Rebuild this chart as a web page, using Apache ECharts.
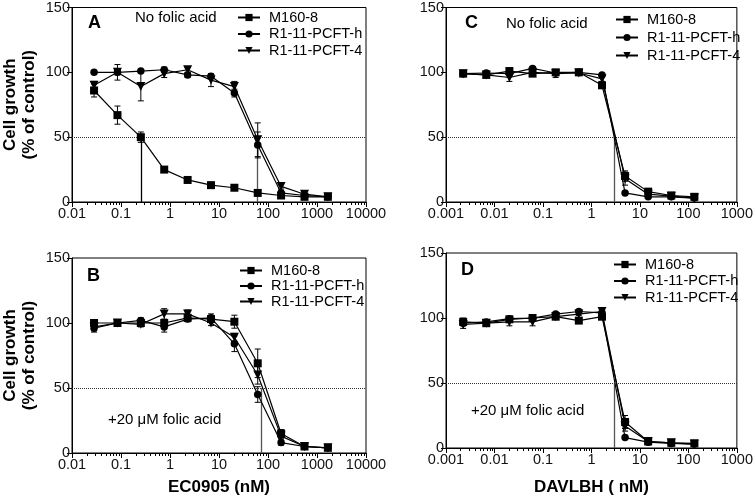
<!DOCTYPE html>
<html><head><meta charset="utf-8">
<script src="https://cdn.jsdelivr.net/npm/echarts@6/dist/echarts.min.js"></script>
<style>html,body{margin:0;padding:0;background:#fff}#c{width:756px;height:502px}</style>
</head><body><div id="c"></div>
<script>
// ---- data ----
const seriesNames = ['M160-8', 'R1-11-PCFT-h', 'R1-11-PCFT-4'];
const dosesEC = [0.0282, 0.0847, 0.254, 0.762, 2.29, 6.86, 20.6, 61.7, 185, 556, 1667];
const dosesDAV = [0.00226, 0.00677, 0.0203, 0.061, 0.183, 0.549, 1.65, 4.94, 14.8, 44.4, 133];
const ecTicks = ['0.01', '0.1', '1', '10', '100', '1000', '10000'];
const davTicks = ['0.001', '0.01', '0.1', '1', '10', '100', '1000'];
const yTicks = ['0', '50', '100', '150'];

const aM160 = [86, 67, 50, 25, 17, 13, 11, 7, 5, 4, 4];
const aPCFTh = [100, 100, 101, 102, 98, 97, 84, 44, 7, 5, 4];
const aPCFT4 = [90, 100, 89, 99, 102, 94, 89, 48, 12, 6, 4];
const aM160Err = [5, 7, 4, 2, 2, 1, 1, 1, 1, 0.5, 0.5];
const aPCFThErr = [1, 2, 1, 2, 2, 1, 3, 10, 2, 1, 1];
const aPCFT4Err = [3, 6, 11, 3, 2, 5, 4, 13, 2, 1, 1];

const bM160 = [100, 100, 100, 100, 104, 103, 101, 69, 15, 5, 4];
const bPCFTh = [96, 100, 102, 97, 103, 104, 84, 45, 8, 5, 4];
const bPCFT4 = [97, 100, 99, 107, 107, 100, 89, 60, 13, 5, 4];
const bM160Err = [2, 1, 1, 2, 2, 2, 5, 11, 3, 1, 1];
const bPCFThErr = [3, 1, 2, 4, 2, 3, 6, 6, 2, 1, 1];
const bPCFT4Err = [3, 1, 2, 4, 3, 2, 3, 7, 2, 1, 1];

const cM160 = [99, 98, 101, 99, 100, 100, 90, 20, 8, 5, 4];
const cPCFTh = [99, 99.5, 99, 103, 99.5, 100, 98, 7, 4, 4, 3];
const cPCFT4 = [99, 98, 96, 100, 99, 99.5, 95, 18, 6, 4.5, 3];
const cM160Err = [1, 1, 2, 1, 2, 2, 2, 4, 1, 1, 1];
const cPCFThErr = [1, 1, 1, 1, 1, 1, 1, 1, 1, 1, 1];
const cPCFT4Err = [1, 1, 3, 1, 3, 2, 2, 5, 1, 1, 1];

const dM160 = [97, 96, 99, 100, 101, 98, 101, 20, 5, 4, 3.5];
const dPCFTh = [96, 97, 99.5, 100, 103, 105, 104, 8, 4.5, 3.5, 3];
const dPCFT4 = [95, 96, 97, 97, 101, 103, 105, 17, 5, 4, 3];
const dM160Err = [3, 2, 2, 2, 1, 1, 2, 5, 1, 1, 1];
const dPCFThErr = [1, 1, 1, 1, 1, 1, 1, 1, 1, 1, 1];
const dPCFT4Err = [3, 2, 3, 3, 1, 1, 2, 4, 1, 1, 1];

const ic50A = [0.254, 61.7];
const ic50B = [72];
const ic50C = [3];
const ic50D = [3];

// ---- chart ----
const FONT = '"Liberation Sans", Arial, sans-serif';
const panels = [
  {grid:{left:72, top:6, width:294, height:196}, doses:dosesEC, ticks:ecTicks, min:0.01, max:10000,
   vals:[aM160,aPCFTh,aPCFT4], errs:[aM160Err,aPCFThErr,aPCFT4Err], ic50:ic50A, icColors:['#000','#555'],
   yName:'Cell growth\n(% of control)', xName:''},
  {grid:{left:72, top:258, width:294, height:195}, doses:dosesEC, ticks:ecTicks, min:0.01, max:10000,
   vals:[bM160,bPCFTh,bPCFT4], errs:[bM160Err,bPCFThErr,bPCFT4Err], ic50:ic50B, icColors:['#555'],
   yName:'Cell growth\n(% of control)', xName:'EC0905 (nM)', xGap:26},
  {grid:{left:446, top:7, width:294, height:195}, doses:dosesDAV, ticks:davTicks, min:0.001, max:1000,
   vals:[cM160,cPCFTh,cPCFT4], errs:[cM160Err,cPCFThErr,cPCFT4Err], ic50:ic50C, icColors:['#555'],
   yName:'', xName:''},
  {grid:{left:446, top:253, width:294, height:195}, doses:dosesDAV, ticks:davTicks, min:0.001, max:1000,
   vals:[dM160,dPCFTh,dPCFT4], errs:[dM160Err,dPCFThErr,dPCFT4Err], ic50:ic50D, icColors:['#555'],
   yName:'', xName:'DAVLBH ( nM)', xGap:31}
];
const symbols = [
  {symbol:'rect', size:8, rotate:0},
  {symbol:'circle', size:7.5, rotate:0},
  {symbol:'triangle', size:9, rotate:180}
];

const grid = [], xAxis = [], yAxis = [], series = [];
panels.forEach((p, pi) => {
  grid.push(Object.assign({show:true, borderColor:'#000', borderWidth:1, backgroundColor:'transparent'}, p.grid));
  xAxis.push({
    type:'log', logBase:10, gridIndex:pi, min:p.min, max:p.max, splitNumber:6,
    axisLine:{show:true, onZero:false, lineStyle:{color:'#000', width:1}},
    axisTick:{show:true, length:5, lineStyle:{color:'#000'}},
    minorTick:{show:true, splitNumber:9, length:3, lineStyle:{color:'#000'}},
    splitLine:{show:false}, minorSplitLine:{show:false},
    axisLabel:{color:'#111', fontFamily:FONT, fontSize:14.5, margin:4,
      formatter:(v)=>{const k=Math.round(Math.log10(v)-Math.log10(p.min));return p.ticks[k];}},
    name:p.xName, nameLocation:'middle', nameGap:p.xGap||26,
    nameTextStyle:{color:'#000', fontFamily:FONT, fontSize:17, fontWeight:'bold'}
  });
  yAxis.push({
    type:'value', gridIndex:pi, min:0, max:150, interval:50,
    axisLine:{show:true, lineStyle:{color:'#000', width:1}},
    axisTick:{show:true, length:5, lineStyle:{color:'#000'}},
    splitLine:{show:false},
    axisLabel:{color:'#111', fontFamily:FONT, fontSize:14.5, margin:2,
      formatter:(v)=>yTicks[Math.round(v/50)]},
    name:p.yName, nameLocation:'middle', nameGap:33, nameRotate:90,
    nameTextStyle:{color:'#000', fontFamily:FONT, fontSize:17, fontWeight:'bold', lineHeight:19}
  });
  p.vals.forEach((vals, gi) => {
    const s = symbols[gi];
    const line = {
      type:'line', name:seriesNames[gi], xAxisIndex:pi, yAxisIndex:pi,
      data:p.doses.map((d,i)=>[d, vals[i]]),
      symbol:s.symbol, symbolSize:s.size, symbolRotate:s.rotate, showAllSymbol:true,
      lineStyle:{color:'#000', width:1.2}, itemStyle:{color:'#000'}, z:4, silent:true
    };
    if (gi === 0) {
      const ml = [[{xAxis:p.min, yAxis:50, lineStyle:{color:'#333', type:'dotted', width:1}}, {xAxis:p.max, yAxis:50}]];
      p.ic50.forEach((x, k) => {
        ml.push([{coord:[x, 0], lineStyle:{color:p.icColors[k], type:'solid', width:1.3}}, {coord:[x, 50]}]);
      });
      line.markLine = {silent:true, symbol:'none', label:{show:false}, data:ml, z:2};
    }
    series.push(line);
    series.push({
      type:'custom', name:seriesNames[gi], xAxisIndex:pi, yAxisIndex:pi, z:3, silent:true,
      data:p.doses.map((d,i)=>[d, vals[i], p.errs[gi][i]]),
      encode:{x:0, y:1},
      renderItem:(params, api)=>{
        const x=api.value(0), y=api.value(1), e=api.value(2);
        const t=api.coord([x, y+e]), b=api.coord([x, Math.max(y-e, 0.01)]);
        const hw=3, st={stroke:'#000', lineWidth:1};
        return {type:'group', children:[
          {type:'line', shape:{x1:t[0], y1:t[1], x2:b[0], y2:b[1]}, style:st},
          {type:'line', shape:{x1:t[0]-hw, y1:t[1], x2:t[0]+hw, y2:t[1]}, style:st},
          {type:'line', shape:{x1:b[0]-hw, y1:b[1], x2:b[0]+hw, y2:b[1]}, style:st}
        ]};
      }
    });
  });
});

const legendBase = {orient:'vertical', padding:0, itemWidth:22, itemHeight:9, selectedMode:false,
  data:seriesNames, textStyle:{color:'#000', fontFamily:FONT, fontSize:14.5, padding:[0,0,0,4]}};
const legend = [
  Object.assign({}, legendBase, {left:237, top:10, itemGap:1.5}),
  Object.assign({}, legendBase, {left:239, top:263, itemGap:0.5}),
  Object.assign({}, legendBase, {left:615, top:12, itemGap:3}),
  Object.assign({}, legendBase, {left:613, top:257, itemGap:1.5})
];

function txt(x, y, s, size, bold) {
  return {type:'text', left:x, top:y - size*0.6, silent:true,
    style:{text:s, fill:'#000', font:(bold?'bold ':'')+size+'px '+FONT}};
}
const graphic = [
  txt(88, 25, 'A', 18, true),
  txt(135, 19, 'No folic acid', 15, false),
  txt(87, 278, 'B', 18, true),
  txt(108, 421, '+20 \u03bcM folic acid', 15, false),
  txt(465, 25, 'C', 18, true),
  txt(506, 25, 'No folic acid', 15, false),
  txt(461, 272, 'D', 18, true),
  txt(471, 412, '+20 \u03bcM folic acid', 15, false)
];

const chart = echarts.init(document.getElementById('c'), null, {renderer:'canvas'});
chart.setOption({animation:false, backgroundColor:'#fff', grid, xAxis, yAxis, series, legend, graphic});
</script></body></html>
